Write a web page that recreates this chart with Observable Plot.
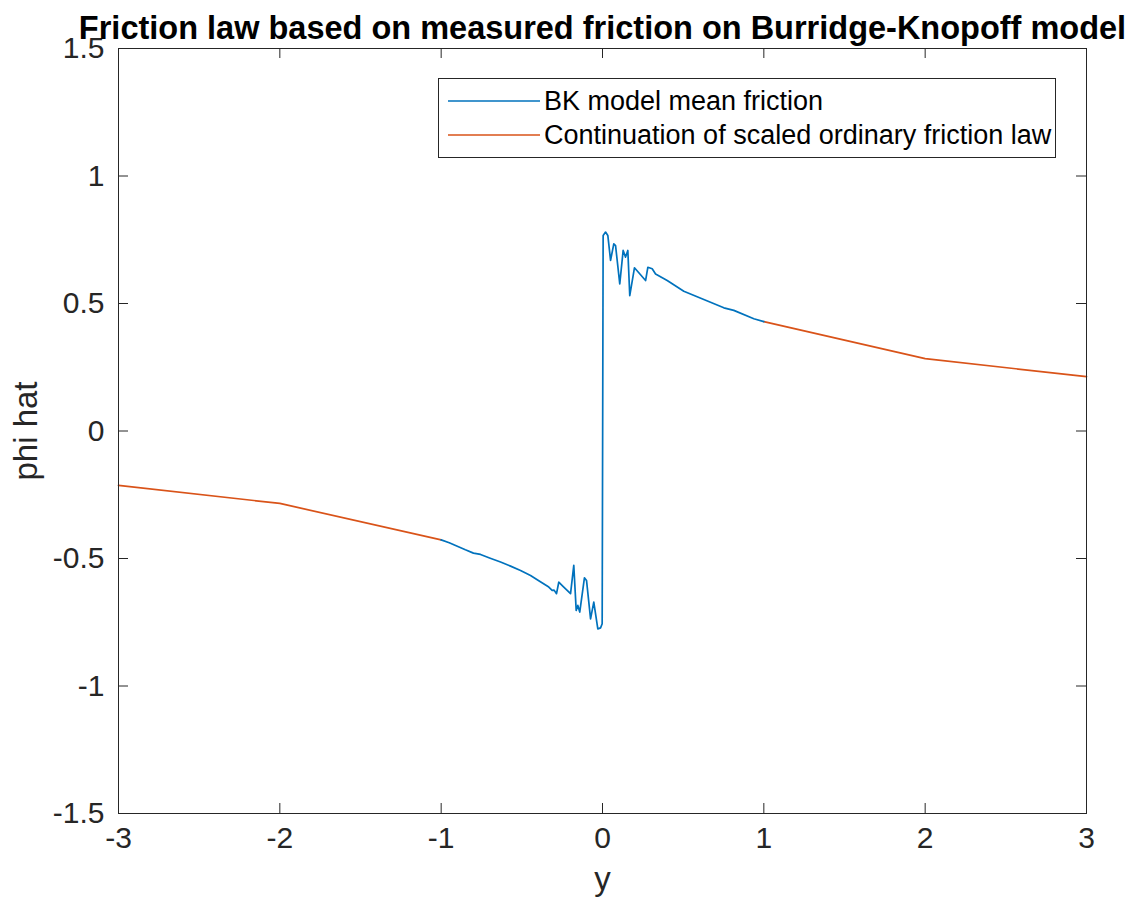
<!DOCTYPE html>
<html>
<head>
<meta charset="utf-8">
<script src="https://cdn.jsdelivr.net/npm/d3@7"></script>
<script src="https://cdn.jsdelivr.net/npm/@observablehq/plot@0.6"></script>
<style>
  html, body { margin: 0; padding: 0; background: #fff; }
  #chart { position: relative; width: 1138px; height: 911px; }
</style>
</head>
<body>
<div id="chart"></div>
<script>
// Mean friction of the Burridge-Knopoff model (sliding velocity y vs. phi hat)
const bkY = [
  -1.00, -0.95, -0.90, -0.85, -0.80, -0.756, -0.70, -0.632, -0.57, -0.508,
  -0.446, -0.39, -0.333, -0.312, -0.30, -0.285, -0.271, -0.24, -0.198, -0.178,
  -0.163, -0.153, -0.141, -0.112, -0.099, -0.074, -0.054, -0.029, -0.012, -0.002,
  0.004, 0.019, 0.033, 0.05, 0.07, 0.081, 0.107, 0.128, 0.143, 0.157,
  0.169, 0.198, 0.267, 0.281, 0.308, 0.329, 0.401, 0.504, 0.628, 0.752,
  0.814, 0.938, 1.00
];
const bkPhi = [
  -0.427, -0.438, -0.452, -0.466, -0.479, -0.484, -0.498, -0.514, -0.530, -0.547,
  -0.567, -0.589, -0.612, -0.625, -0.624, -0.638, -0.593, -0.612, -0.638, -0.527,
  -0.704, -0.684, -0.710, -0.576, -0.586, -0.737, -0.671, -0.776, -0.772, -0.756,
  0.767, 0.780, 0.767, 0.669, 0.734, 0.727, 0.577, 0.708, 0.682, 0.708,
  0.531, 0.640, 0.590, 0.642, 0.636, 0.616, 0.590, 0.548, 0.516, 0.483,
  0.473, 0.440, 0.429
];

// Scaled ordinary friction law, continued outside |y| <= 1
const lawY = [-3, -2, -1, 1, 2, 3];
const lawPhi = [-0.213, -0.284, -0.427, 0.429, 0.284, 0.213];

const xTicks = [-3, -2, -1, 0, 1, 2, 3];
const yTicks = [-1.5, -1, -0.5, 0, 0.5, 1, 1.5];

const seriesNames = ["BK model mean friction", "Continuation of scaled ordinary friction law"];
const seriesColors = ["#0072BD", "#D95319"];

const bk = bkY.map((y, i) => ({y, phi: bkPhi[i]}));
const law = lawY.map((y, i) => ({y, phi: lawPhi[i], side: Math.sign(y)}));

const W = 1138, H = 911;
const mL = 118, mR = 52, mT = 48, mB = 98;
const innerW = W - mL - mR, innerH = H - mT - mB;
const tickLen = 10;
const axisColor = "#262626";
const fontFamily = "'Liberation Sans', Arial, Helvetica, sans-serif";

const chart = Plot.plot({
  width: W,
  height: H,
  marginLeft: mL,
  marginRight: mR,
  marginTop: mT,
  marginBottom: mB,
  x: {domain: [-3, 3], axis: null},
  y: {domain: [-1.5, 1.5], axis: null},
  style: {fontFamily, background: "#fff", overflow: "visible"},
  marks: [
    // series
    Plot.line(law, {x: "y", y: "phi", z: "side", stroke: seriesColors[1], strokeWidth: 1.7}),
    Plot.line(bk, {x: "y", y: "phi", stroke: seriesColors[0], strokeWidth: 1.7}),
    // box and inward ticks on all four sides
    Plot.frame({stroke: axisColor, strokeWidth: 1}),
    Plot.tickX(xTicks, {x: d => d, stroke: axisColor, insetTop: innerH - tickLen}),
    Plot.tickX(xTicks, {x: d => d, stroke: axisColor, insetBottom: innerH - tickLen}),
    Plot.tickY(yTicks, {y: d => d, stroke: axisColor, insetRight: innerW - tickLen}),
    Plot.tickY(yTicks, {y: d => d, stroke: axisColor, insetLeft: innerW - tickLen}),
    // tick labels
    Plot.text(xTicks, {x: d => d, text: d => String(d), frameAnchor: "bottom", dy: 34, fontSize: 30, fill: axisColor}),
    Plot.text(yTicks, {y: d => d, text: d => String(d), frameAnchor: "left", textAnchor: "end", dx: -14, fontSize: 30, fill: axisColor}),
    // axis titles
    Plot.text(["y"], {frameAnchor: "bottom", dy: 76, fontSize: 33, fill: axisColor}),
    Plot.text(["phi hat"], {frameAnchor: "left", textAnchor: "middle", dx: -92, rotate: -90, fontSize: 33, fill: axisColor}),
    // chart title
    Plot.text(["Friction law based on measured friction on Burridge-Knopoff model"],
      {frameAnchor: "top", dy: -33, fontSize: 32.5, fontWeight: "bold", fill: "#000"})
  ]
});

document.getElementById("chart").appendChild(chart);

// legend box in the upper right of the axes
const svg = d3.select(chart);
const lg = svg.append("g").attr("font-family", fontFamily).attr("text-anchor", "start");
lg.append("rect")
  .attr("x", 438.5).attr("y", 78.5).attr("width", 617).attr("height", 79)
  .attr("fill", "#fff").attr("stroke", axisColor).attr("stroke-width", 1);
seriesNames.forEach((name, i) => {
  const cy = 101 + i * 34;
  lg.append("line")
    .attr("x1", 448).attr("x2", 540).attr("y1", cy).attr("y2", cy)
    .attr("stroke", seriesColors[i]).attr("stroke-width", 1.5);
  lg.append("text")
    .attr("x", 544).attr("y", cy).attr("dy", "0.35em")
    .attr("font-size", 27).attr("fill", "#000")
    .text(name);
});
</script>
</body>
</html>
